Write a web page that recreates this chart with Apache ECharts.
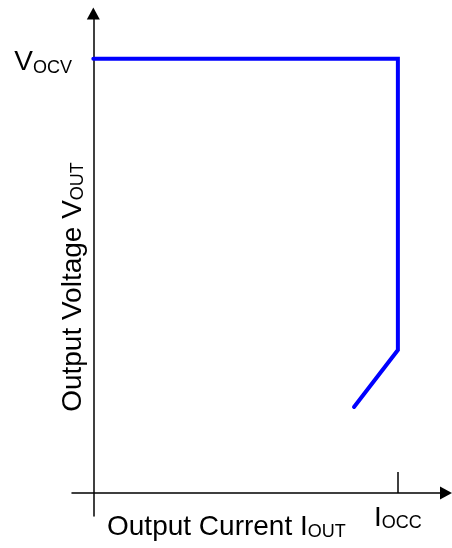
<!DOCTYPE html>
<html>
<head>
<meta charset="utf-8">
<script src="https://cdn.jsdelivr.net/npm/echarts@6/dist/echarts.min.js"></script>
<style>
html,body{margin:0;padding:0;background:#fff;}
#chart{width:452px;height:548px;}
</style>
</head>
<body>
<div id="chart"></div>
<script>
// Characteristic curve points [current, voltage] in normalized units (I_OCC = 10, V_OCV = 10)
const curveCurrent = [0, 10, 10, 8.56];
const curveVoltage = [10, 10, 3.29, 1.98];
const xTickValues = [10];
const yTickValues = [10];
const xTickLabel = '{m|I}{s|OCC}';
const yTickLabel = '{m|V}{s|OCV}';
const xTitle = '{m|Output Current I}{s|OUT}';
const yTitle = '{m|Output Voltage V}{s|OUT}';

const FONT = 'Liberation Sans, Arial, sans-serif';
const rich = {
  m: {fontSize: 28, fontFamily: FONT, color: '#000', verticalAlign: 'bottom'},
  s: {fontSize: 18, fontFamily: FONT, color: '#000', verticalAlign: 'bottom'}
};

const chart = echarts.init(document.getElementById('chart'), null, {renderer: 'canvas'});
const data = curveCurrent.map((x, i) => [x, curveVoltage[i]]);

chart.setOption({
  animation: false,
  backgroundColor: '#fff',
  grid: {left: 72, right: 6, top: 13.5, bottom: 32, containLabel: false, outerBoundsMode: 'none'},
  xAxis: {
    type: 'value', min: -0.7, max: 11.58,
    splitLine: {show: false},
    axisLine: {show: true, onZero: true, symbol: ['none', 'triangle'], symbolSize: [13, 12],
      lineStyle: {color: '#000', width: 1.5}},
    axisTick: {show: true, inside: true, length: 21, customValues: xTickValues,
      lineStyle: {color: '#000', width: 1.5}},
    axisLabel: {show: true, customValues: xTickValues, margin: -12,
      formatter: () => xTickLabel, rich: rich}
  },
  yAxis: {
    type: 'value', min: -0.53, max: 11.04,
    splitLine: {show: false},
    axisLine: {show: true, onZero: true, symbol: ['none', 'triangle'], symbolSize: [13, 12],
      lineStyle: {color: '#000', width: 1.5}},
    axisTick: {show: false},
    axisLabel: {show: true, customValues: yTickValues, margin: 0, padding: [8, 0, 0, 0],
      formatter: () => yTickLabel, rich: rich}
  },
  graphic: [
    {type: 'text', x: 107, y: 527,
      style: {text: xTitle, rich: rich, align: 'left', verticalAlign: 'middle'}},
    {type: 'text', x: 73, y: 287, rotation: Math.PI / 2,
      style: {text: yTitle, rich: rich, align: 'center', verticalAlign: 'middle'}}
  ],
  series: [{
    type: 'line', data: data, showSymbol: false, silent: true,
    lineStyle: {color: '#0000ff', width: 4, cap: 'round', join: 'miter'}
  }]
});
</script>
</body>
</html>
